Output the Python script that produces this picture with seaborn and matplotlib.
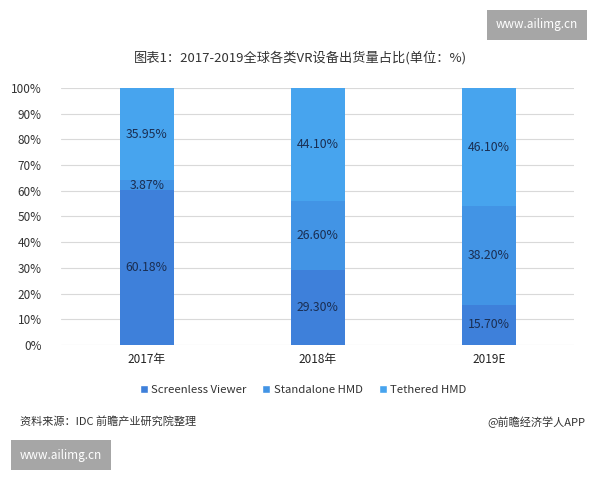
import matplotlib
matplotlib.use("Agg")
import matplotlib.pyplot as plt
import seaborn as sns
import pandas as pd
import numpy as np
from matplotlib.patches import Patch

categories = ["2017年", "2018年", "2019E"]
screenless = [60.18, 29.30, 15.70]
standalone = [3.87, 26.60, 38.20]
tethered = [35.95, 44.10, 46.10]
series_names = ["Screenless Viewer", "Standalone HMD", "Tethered HMD"]
colors = ["#3E80DA", "#4294E5", "#47A4EE"]
yticks = [0, 10, 20, 30, 40, 50, 60, 70, 80, 90, 100]

sns.set_theme(style="white")
plt.rcParams['font.family'] = ['Noto Sans CJK SC', 'DejaVu Sans']

fig = plt.figure(figsize=(6, 4.8), dpi=100)
ax = fig.add_axes([0.102, 0.281, 0.855, 0.536])

series = [screenless, standalone, tethered]
bottom = np.zeros(len(categories))
for name, vals, c in zip(series_names, series, colors):
    df = pd.DataFrame({"cat": categories, "val": vals})
    sns.barplot(data=df, x="cat", y="val", ax=ax, color=c, width=0.315,
                bottom=bottom, saturation=1, zorder=3, linewidth=0)
    for i, v in enumerate(vals):
        ax.text(i, bottom[i] + v / 2, f"{v:.2f}%", ha="center", va="center",
                fontsize=8.8, color="#1A2E52", zorder=4)
    bottom = bottom + np.array(vals)

ax.set_ylim(0, 100)
ax.set_xlim(-0.5, 2.5)
ax.set_yticks(yticks)
ax.set_yticklabels([f"{t}%" for t in yticks], fontsize=8.5, color="#333333")
ax.tick_params(axis="x", labelsize=8.5, labelcolor="#222222", pad=6, length=0)
ax.tick_params(axis="y", pad=14, length=0)
ax.set_xlabel("")
ax.set_ylabel("")
ax.grid(axis="y", color="#D9D9D9", linewidth=0.8, zorder=0)
for s in ax.spines.values():
    s.set_visible(False)

handles = [Patch(facecolor=c, label=n) for c, n in zip(colors, series_names)]
fig.legend(handles=handles, loc="center", bbox_to_anchor=(0.505, 0.188), ncol=3,
           frameon=False, fontsize=8.2, handlelength=0.7, handleheight=0.7,
           handletextpad=0.3, columnspacing=1.4, labelcolor="#333333")

fig.text(0.5, 0.88, "图表1：2017-2019全球各类VR设备出货量占比(单位：%)", ha="center",
         va="center", fontsize=9.5, color="#333333")
fig.text(0.033, 0.121, "资料来源：IDC 前瞻产业研究院整理", ha="left", va="center",
         fontsize=8, color="#333333")
fig.text(0.975, 0.121, "@前瞻经济学人APP", ha="right", va="center",
         fontsize=8, color="#333333")
fig.text(0.895, 0.948, "www.ailimg.cn", ha="center", va="center", fontsize=8.5,
         color="white", bbox=dict(boxstyle="square,pad=0.75", fc="#A6A6A6", ec="none"))
fig.text(0.101, 0.052, "www.ailimg.cn", ha="center", va="center", fontsize=8.5,
         color="white", bbox=dict(boxstyle="square,pad=0.75", fc="#A6A6A6", ec="none"))

fig.savefig("out.png", dpi=100)
